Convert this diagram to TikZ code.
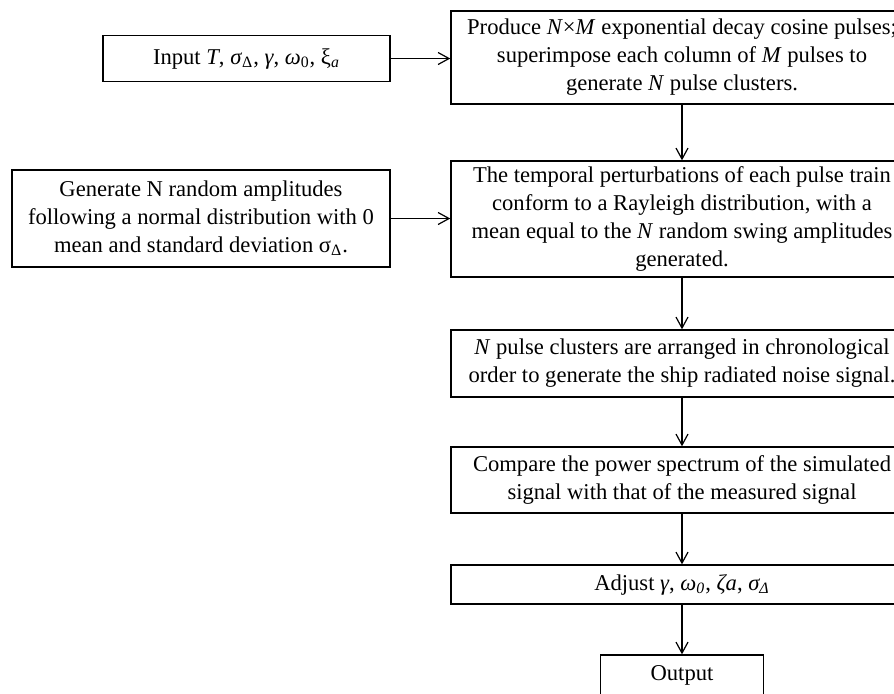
\documentclass[tikz,border=0pt]{standalone}
\usepackage{fontspec}
\setmainfont{Liberation Serif}
\usetikzlibrary{arrows.meta}

\begin{document}
\begin{tikzpicture}[
        x=0.5pt, y=0.5pt,
        font=\fontsize{11.3pt}{14pt}\selectfont,
        box/.style = {draw, line width=0.7pt, align=center, inner sep=0pt},
        flow/.style = {-{Straight Barb[length=5.5pt, width=6pt]}, line width=0.6pt}
    ]
    \clip (0,0) rectangle (894,-693);

    \node (inp) at (246.5,-58.5) [box, minimum width=143.5pt, minimum height=23pt]
        {Input \textit{T}, \textit{σ}\textsubscript{Δ}, \textit{γ}, \textit{ω}\textsubscript{0}, ξ\textsubscript{\textit{a}}};
    \node (prod) at (682,-57.5) [box, minimum width=231pt, minimum height=46.5pt]
        {Produce \textit{N}×\textit{M} exponential decay cosine pulses;\\
         superimpose each column of \textit{M} pulses to\\
         generate \textit{N} pulse clusters.};
    \node (gen) at (201,-218.5) [box, minimum width=189pt, minimum height=48.5pt]
        {Generate N random amplitudes\\
         following a normal distribution with 0\\
         mean and standard deviation σ\textsubscript{Δ}.};
    \node (temp) at (682,-219) [box, minimum width=231pt, minimum height=58pt]
        {The temporal perturbations of each pulse train\\
         conform to a Rayleigh distribution, with a\\
         mean equal to the \textit{N} random swing amplitudes\\
         generated.};
    \node (arr) at (682,-363.5) [box, minimum width=231pt, minimum height=33.5pt]
        {\textit{N} pulse clusters are arranged in chronological\\
         order to generate the ship radiated noise signal.};
    \node (cmp) at (682,-480) [box, minimum width=231pt, minimum height=33pt]
        {Compare the power spectrum of the simulated\\
         signal with that of the measured signal};
    \node (adj) at (682,-584.5) [box, minimum width=231pt, minimum height=19.5pt]
        {Adjust \textit{γ}, \textit{ω\textsubscript{0}}, \textit{ζa}, \textit{σ\textsubscript{Δ}}};
    \node (out) at (682,-675) [box, minimum width=81.5pt, minimum height=20pt] {Output};

    \draw[flow] (inp.east) -- (inp.east -| prod.west);
    \draw[flow] (gen.east) -- (gen.east -| temp.west);
    \draw[flow] (prod.south) -- (temp.north);
    \draw[flow] (temp.south) -- (arr.north);
    \draw[flow] (arr.south) -- (cmp.north);
    \draw[flow] (cmp.south) -- (adj.north);
    \draw[flow] (adj.south) -- (out.north);
\end{tikzpicture}
\end{document}
